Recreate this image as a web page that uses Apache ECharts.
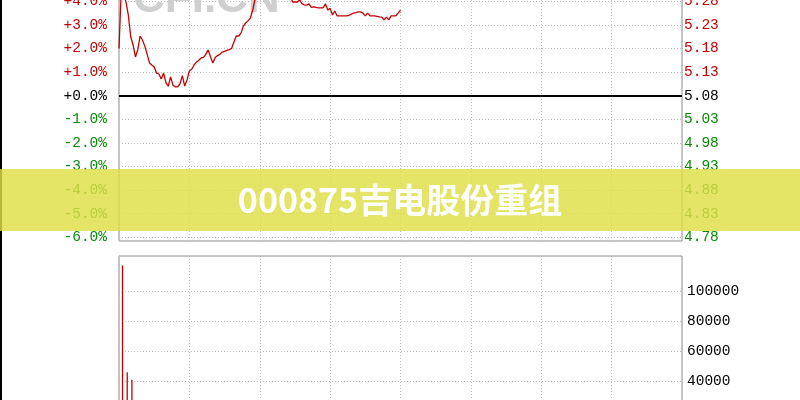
<!DOCTYPE html>
<html>
<head>
<meta charset="utf-8">
<script src="https://cdn.jsdelivr.net/npm/echarts@6/dist/echarts.min.js"></script>
<style>
html,body{margin:0;padding:0;background:#fff;}
#c{width:800px;height:400px;}
</style>
</head>
<body>
<div id="c"></div>
<script>
// ---- data ----
// intraday change in % per minute from 9:30 (index = minute)
const pricePct = [
 2.00,4.60,4.30,3.95,3.40,2.50,2.15,1.64,1.95,2.53,
 2.36,2.10,1.75,1.39,1.30,1.22,0.96,0.92,0.71,0.96,
 0.55,0.40,0.80,0.45,0.37,0.38,0.50,0.85,0.41,0.67,
 1.05,1.12,1.30,1.42,1.50,1.60,1.62,1.75,1.94,1.65,
 1.39,1.62,1.70,1.75,1.85,1.88,1.92,1.95,2.00,2.28,
 2.53,2.53,2.65,2.95,3.08,3.17,3.29,3.63,4.10,4.50,
 4.80,4.95,5.10,5.25,5.40,5.50,5.60,5.50,5.40,5.20,
 5.00,4.75,4.50,4.25,3.97,3.97,3.97,4.06,3.90,3.85,
 3.84,3.89,3.74,3.76,3.74,3.72,3.72,3.72,3.89,3.63,
 3.70,3.42,3.59,3.38,3.38,3.38,3.38,3.38,3.40,3.46,
 3.50,3.52,3.55,3.55,3.50,3.38,3.50,3.38,3.38,3.38,
 3.36,3.34,3.33,3.21,3.33,3.21,3.38,3.38,3.38,3.50,
 3.63
];
// volume per minute slot
const volumes = [
 9000,117000,8000,46000,12000,41000,15000,11000,9000,13000,
 10000,8000,9000,7000,12000,9000,8000,10000,7000,6000,
 9000,8000,7000,6000,8000,7000,9000,6000,7000,8000,
 9000,7000,8000,6000,7000,9000,8000,7000,10000,6000,
 7000,8000,6000,7000,6000,8000,7000,6000,9000,8000,
 11000,9000,10000,12000,9000,10000,11000,13000,14000,12000,
 13000,11000,10000,12000,11000,9000,10000,9000,8000,10000,
 9000,8000,7000,8000,9000,6000,7000,8000,6000,7000,
 6000,5000,7000,6000,5000,6000,5000,6000,7000,5000,
 6000,5000,6000,5000,4000,5000,6000,4000,5000,4000,
 5000,4000,5000,6000,4000,5000,4000,5000,4000,5000,
 4000,5000,4000,6000,5000,4000,5000,4000,6000,7000
];
const pctTicks = [-6,-5,-4,-3,-2,-1,0,1,2,3,4];
const pctLabels = ['-6.0%','-5.0%','-4.0%','-3.0%','-2.0%','-1.0%','+0.0%','+1.0%','+2.0%','+3.0%','+4.0%'];
const priceLabels = ['4.78','4.83','4.88','4.93','4.98','5.03','5.08','5.13','5.18','5.23','5.28'];
const volTicks = [40000,60000,80000,100000];
const volLabels = ['40000','60000','80000','100000'];
const bannerText = '000875吉电股份重组';
const watermark = 'CFI.CN';

// ---- chart ----
const RED = '#c40000', GREEN = '#078a07', BLACK = '#000';
const FONT = 'Liberation Mono';
const dotted = {color:'#bdbdbd', width:1, type:[1,2]};
const slots = Array.from({length: 240}, (_, i) => String(i));

function pctFmt(v){ const i = pctTicks.indexOf(Math.round(v)); return (Math.abs(v - Math.round(v))<1e-6 && i>=0) ? pctLabels[i] : ''; }
function priceFmt(v){ const i = pctTicks.indexOf(Math.round(v)); return (Math.abs(v - Math.round(v))<1e-6 && i>=0) ? priceLabels[i] : ''; }
function colorFor(v){ v = Number(v); return v > 0 ? RED : (v < 0 ? GREEN : BLACK); }
function volFmt(v){ const i = volTicks.indexOf(v); return i>=0 ? volLabels[i] : ''; }

const G = {outerBoundsMode:'none', containLabel:false};
const chart = echarts.init(document.getElementById('c'), null, {renderer:'canvas'});
chart.setOption({
  animation:false,
  backgroundColor:'#fff',
  grid:[
    Object.assign({left:119, right:118, top:-45.9, bottom:162.7}, G),                // 0 price data
    Object.assign({left:119, right:118, top:-60, bottom:159, show:true, borderColor:'#8c8c8c', borderWidth:1, backgroundColor:'transparent'}, G), // 1 price frame
    Object.assign({left:119, right:118, top:260.9, bottom:-41.5}, G),                // 2 volume data
    Object.assign({left:119, right:118, top:256, bottom:-60, show:true, borderColor:'#8c8c8c', borderWidth:1, backgroundColor:'transparent'}, G)  // 3 volume frame
  ],
  xAxis:[
    {gridIndex:0, type:'value', min:0, max:240, interval:30, show:false},
    {gridIndex:1, type:'value', min:0, max:240, interval:30, axisLine:{show:false}, axisTick:{show:false}, axisLabel:{show:false}, splitLine:{show:true, lineStyle:dotted}},
    {gridIndex:2, type:'category', data:slots, boundaryGap:true, show:false},
    {gridIndex:3, type:'value', min:0, max:240, interval:30, axisLine:{show:false}, axisTick:{show:false}, axisLabel:{show:false}, splitLine:{show:true, lineStyle:dotted}}
  ],
  yAxis:[
    {gridIndex:0, type:'value', min:-6, max:6, interval:1, position:'left',
      axisLine:{show:false}, axisTick:{show:false},
      splitLine:{show:true, lineStyle:dotted},
      axisLabel:{margin:12, fontFamily:FONT, fontSize:14.5, formatter:pctFmt, color:colorFor}},
    {gridIndex:0, type:'value', min:-6, max:6, interval:1, position:'right',
      axisLine:{show:false}, axisTick:{show:false}, splitLine:{show:false},
      axisLabel:{margin:2, fontFamily:FONT, fontSize:14.5, formatter:priceFmt, color:colorFor}},
    {gridIndex:1, type:'value', min:0, max:1, show:false},
    {gridIndex:2, type:'value', min:0, max:120000, interval:20000, position:'right',
      axisLine:{show:false}, axisTick:{show:false},
      splitLine:{show:true, lineStyle:{color:['transparent','#bdbdbd','#bdbdbd','#bdbdbd','#bdbdbd','#bdbdbd','transparent'], width:1, type:[1,2]}},
      axisLabel:{margin:5, fontFamily:FONT, fontSize:14.5, color:BLACK, formatter:volFmt}},
    {gridIndex:3, type:'value', min:0, max:1, show:false}
  ],
  series:[
    {type:'line', xAxisIndex:0, yAxisIndex:0, data:pricePct.map((v,i)=>[i,v]),
      symbol:'none', lineStyle:{color:RED, width:1.3}, z:5,
      markLine:{silent:true, symbol:'none', label:{show:false},
        lineStyle:{color:BLACK, width:2, type:'solid'}, data:[{yAxis:0}]}},
    {type:'bar', xAxisIndex:2, yAxisIndex:3, data:volumes,
      barWidth:1.3, itemStyle:{color:RED}, z:5}
  ],
  graphic:[
    {type:'rect', left:0, top:0, shape:{width:2, height:400}, style:{fill:'#000'}, z:50},
    {type:'text', left:133, top:-22, z:1,
      style:{text:watermark, fill:'#cfcfcf', font:'bold 44px "Liberation Sans", Arial, sans-serif'}},
    {type:'rect', left:0, top:169, shape:{width:800, height:62}, style:{fill:'rgba(222,222,70,0.82)'}, z:100},
    {type:'text', x:400, y:200, z:101,
      style:{text:bannerText, fill:'#fff', align:'center', verticalAlign:'middle',
        font:'bold 34px "Noto Sans CJK SC", sans-serif'}}
  ]
});
</script>
</body>
</html>
